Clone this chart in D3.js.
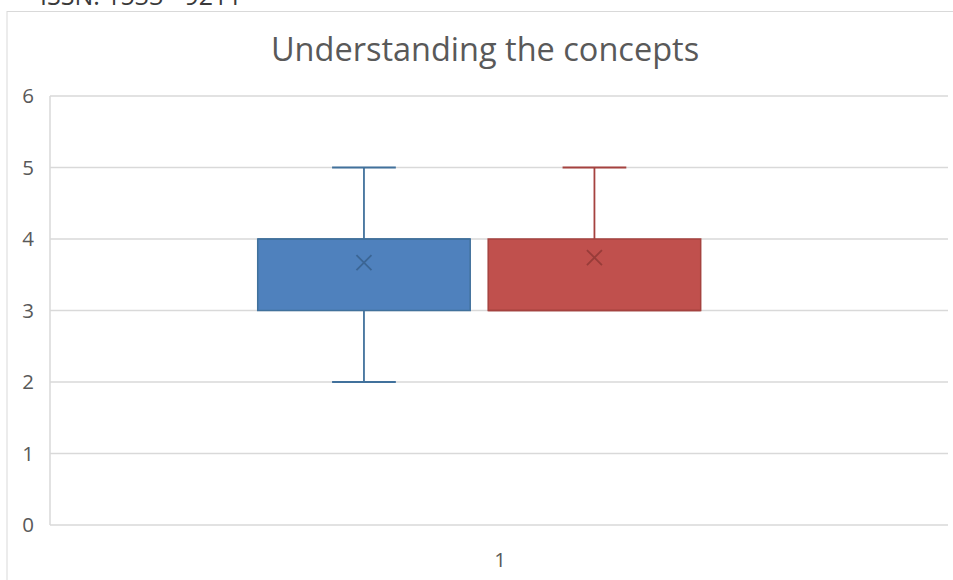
<!DOCTYPE html>
<html>
<head>
<meta charset="utf-8">
<script src="https://cdn.jsdelivr.net/npm/d3@7"></script>
<style>
  html, body { margin: 0; padding: 0; background: #fff; overflow: hidden; }
  svg { display: block; font-family: "Open Sans", "Noto Sans", sans-serif; }
</style>
</head>
<body>
<svg id="chart" width="953" height="580"></svg>
<script>
// Category on the x axis and the two box series
const categories = ["1"];
const seriesNames = ["Group A", "Group B"];
const seriesMin    = [2, 3];
const seriesQ1     = [3, 3];
const seriesMedian = [4, 3];
const seriesQ3     = [4, 4];
const seriesMax    = [5, 5];
const seriesMean   = [3.67, 3.74];
const yTicks = [0, 1, 2, 3, 4, 5, 6];

const fills   = ["#4F81BD", "#C0504D"];
const strokes = ["#41719C", "#A5423F"];
const markers = ["#3B6594", "#983C39"];

const W = 953, H = 580;
const plot = { left: 50, right: 948, top: 96, bottom: 525 };

const svg = d3.select("#chart");

// chart frame
svg.append("rect")
  .attr("x", 7).attr("y", 11.5)
  .attr("width", W + 20).attr("height", H + 20)
  .attr("fill", "#fff").attr("stroke", "#D9D9D9").attr("stroke-width", 1);

// header line partially above the frame
svg.append("text")
  .attr("x", 40).attr("y", 5)
  .attr("font-size", 25).attr("fill", "#3a3a3a")
  .text("ISSN: 1533 - 9211");

// title
svg.append("text")
  .attr("x", 485).attr("y", 61)
  .attr("text-anchor", "middle")
  .attr("font-size", 32.5).attr("fill", "#595959")
  .text("Understanding the concepts");

const y = d3.scaleLinear().domain([0, 6]).range([plot.bottom, plot.top]);
const x0 = d3.scaleBand().domain(categories).range([plot.left, plot.right]);

// gridlines
svg.append("g").selectAll("line").data(yTicks).join("line")
  .attr("x1", plot.left).attr("x2", plot.right)
  .attr("y1", d => y(d)).attr("y2", d => y(d))
  .attr("stroke", "#D9D9D9").attr("stroke-width", 1.5);

// left axis line
svg.append("line")
  .attr("x1", plot.left).attr("x2", plot.left)
  .attr("y1", y(6)).attr("y2", y(0))
  .attr("stroke", "#D9D9D9").attr("stroke-width", 1.5);

// y tick labels
svg.append("g").selectAll("text").data(yTicks).join("text")
  .attr("x", 34).attr("y", d => y(d))
  .attr("dy", "0.36em")
  .attr("text-anchor", "end")
  .attr("font-size", 20.5).attr("fill", "#595959")
  .text(d => d);

// category label
svg.append("g").selectAll("text").data(categories).join("text")
  .attr("x", d => x0(d) + x0.bandwidth() / 2 + 1)
  .attr("y", 567)
  .attr("text-anchor", "middle")
  .attr("font-size", 20.5).attr("fill", "#595959")
  .text(d => d);

// boxes
categories.forEach(cat => {
  const cx0 = x0(cat), bw0 = x0.bandwidth();
  const x1 = d3.scaleBand().domain(seriesNames)
    .range([cx0 + bw0 * 0.2313, cx0 + bw0 * 0.7246])
    .paddingInner(0.078).paddingOuter(0);

  const rows = seriesNames.map((s, i) => ({
    s, i, min: seriesMin[i], q1: seriesQ1[i], med: seriesMedian[i],
    q3: seriesQ3[i], max: seriesMax[i], mean: seriesMean[i]
  }));

  const g = svg.append("g").selectAll("g").data(rows).join("g");
  const bw = x1.bandwidth();
  const cx = d => x1(d.s) + bw / 2;
  const capW = bw * 0.3;

  // whiskers
  g.append("line")
    .attr("x1", cx).attr("x2", cx)
    .attr("y1", d => y(d.q3)).attr("y2", d => y(d.max))
    .attr("stroke", d => strokes[d.i]).attr("stroke-width", 1.8);
  g.append("line")
    .attr("x1", cx).attr("x2", cx)
    .attr("y1", d => y(d.q1)).attr("y2", d => y(d.min))
    .attr("stroke", d => strokes[d.i]).attr("stroke-width", 1.8);
  g.filter(d => d.max > d.q3).append("line")
    .attr("x1", d => cx(d) - capW / 2).attr("x2", d => cx(d) + capW / 2)
    .attr("y1", d => y(d.max)).attr("y2", d => y(d.max))
    .attr("stroke", d => strokes[d.i]).attr("stroke-width", 1.8);
  g.filter(d => d.min < d.q1).append("line")
    .attr("x1", d => cx(d) - capW / 2).attr("x2", d => cx(d) + capW / 2)
    .attr("y1", d => y(d.min)).attr("y2", d => y(d.min))
    .attr("stroke", d => strokes[d.i]).attr("stroke-width", 1.8);

  // box
  g.append("rect")
    .attr("x", d => x1(d.s)).attr("width", bw)
    .attr("y", d => y(d.q3)).attr("height", d => y(d.q1) - y(d.q3))
    .attr("fill", d => fills[d.i])
    .attr("stroke", d => strokes[d.i]).attr("stroke-width", 1.5);

  // median
  g.append("line")
    .attr("x1", d => x1(d.s)).attr("x2", d => x1(d.s) + bw)
    .attr("y1", d => y(d.med)).attr("y2", d => y(d.med))
    .attr("stroke", d => strokes[d.i]).attr("stroke-width", 1.5);

  // mean marker
  const m = 7.5;
  g.append("path")
    .attr("d", d => {
      const px = cx(d), py = y(d.mean);
      return `M${px - m},${py - m}L${px + m},${py + m}M${px - m},${py + m}L${px + m},${py - m}`;
    })
    .attr("stroke", d => markers[d.i]).attr("stroke-width", 1.8).attr("fill", "none");
});
</script>
</body>
</html>
